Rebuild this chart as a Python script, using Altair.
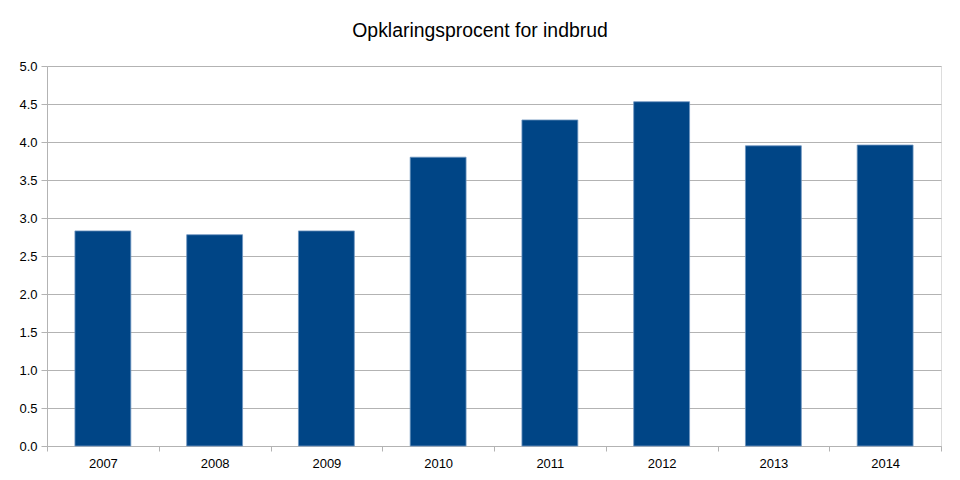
import altair as alt
import pandas as pd

years = ["2007", "2008", "2009", "2010", "2011", "2012", "2013", "2014"]
values = [2.83, 2.78, 2.83, 3.80, 4.29, 4.53, 3.95, 3.96]

df = pd.DataFrame({"year": years, "value": values})

grid = "#b3b3b3"

chart = alt.Chart(df).mark_bar(color="#004586", stroke="#6f95c0", strokeWidth=0.8,
                               width=alt.RelativeBandSize(0.5)).encode(
    x=alt.X("year:N", sort=years, title=None,
            scale=alt.Scale(paddingInner=0, paddingOuter=0),
            axis=alt.Axis(labelAngle=0, tickBand="extent", tickSize=5, tickColor=grid,
                          domainColor=grid, labelFont="Liberation Sans", labelFontSize=13,
                          labelColor="#000000", labelPadding=6, grid=False)),
    y=alt.Y("value:Q", title=None,
            scale=alt.Scale(domain=[0, 5], nice=False),
            axis=alt.Axis(values=[0, 0.5, 1, 1.5, 2, 2.5, 3, 3.5, 4, 4.5, 5], format=".1f",
                          tickSize=6, tickColor=grid, domainColor=grid, gridColor=grid,
                          labelFont="Liberation Sans", labelFontSize=13, labelColor="#000000",
                          labelPadding=4)),
).properties(
    width=894, height=380,
    title=alt.TitleParams("Opklaringsprocent for indbrud", font="Liberation Sans", fontSize=19.4,
                          fontWeight="normal", color="#000000", anchor="middle", dx=-14, offset=19),
    autosize=alt.AutoSizeParams(type="none"),
    padding={"left": 39, "top": 58, "right": 11, "bottom": 26},
).configure_view(stroke=grid).configure(background="#ffffff")

chart.save("out.html", embed_options={"renderer": "svg", "actions": False})
